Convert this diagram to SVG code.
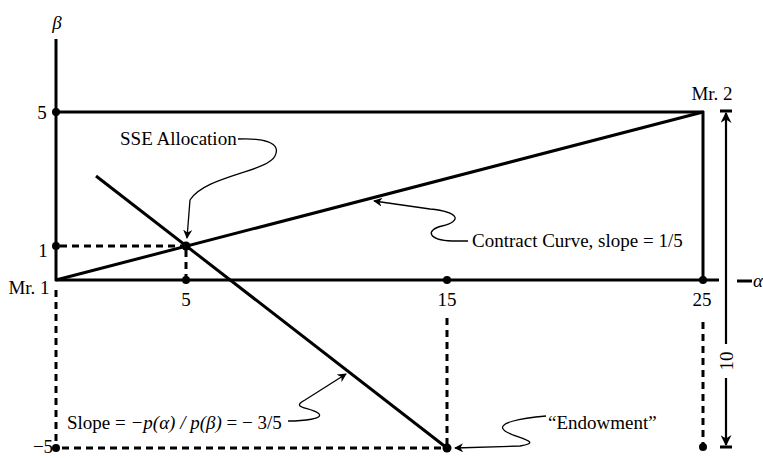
<svg xmlns="http://www.w3.org/2000/svg" width="763" height="458" viewBox="0 0 763 458">
<style>
.t{font-family:"Liberation Serif","Times New Roman",serif;font-size:19px;fill:#000}
.i{font-style:italic}
.thick{stroke:#000;stroke-width:3;fill:none}
.dash{stroke:#000;stroke-width:3;fill:none;stroke-dasharray:7 5}
.thin{stroke:#000;stroke-width:1.3;fill:none}
.dot{fill:#000}
</style>
<defs>
<marker id="ah" viewBox="0 0 10 10" refX="9" refY="5" markerWidth="9" markerHeight="9" markerUnits="userSpaceOnUse" orient="auto">
<path d="M0,0 L10,5 L0,10 L3,5 Z" fill="#000"/>
</marker>
<marker id="ah2" viewBox="0 0 10 10" refX="9" refY="5" markerWidth="11" markerHeight="11" markerUnits="userSpaceOnUse" orient="auto">
<path d="M0,0 L10,5 L0,10 L3,5 Z" fill="#000"/>
</marker>
</defs>
<g id="axes">
<line class="thick" x1="56" y1="39" x2="56" y2="281"/>
<line class="thick" x1="55" y1="280" x2="719" y2="280"/>
<line class="thick" x1="737" y1="281" x2="752" y2="281"/>
<line class="thick" x1="56" y1="112" x2="704" y2="112"/>
<line class="thick" x1="703" y1="111" x2="703" y2="280"/>
<text class="t i" x="57" y="29" text-anchor="middle">β</text>
<text class="t i" x="758" y="287" text-anchor="middle">α</text>
<text class="t" x="42" y="119" text-anchor="middle">5</text>
<text class="t" x="43" y="257" text-anchor="middle">1</text>
<text class="t" x="43" y="453" text-anchor="middle">−5</text>
<text class="t" x="186" y="306" text-anchor="middle">5</text>
<text class="t" x="447" y="306" text-anchor="middle">15</text>
<text class="t" x="702" y="306" text-anchor="middle">25</text>
</g>
<g id="mr1"><text class="t" x="29" y="294" text-anchor="middle">Mr. 1</text></g>
<g id="mr2"><text class="t" x="712" y="100" text-anchor="middle">Mr. 2</text></g>
<g id="connectors">
<line class="thick" x1="56" y1="280" x2="703" y2="112"/>
<line class="thick" x1="96" y1="176" x2="447" y2="448"/>
<line class="dash" x1="60" y1="246" x2="186" y2="246"/>
<line class="dash" x1="186" y1="250" x2="186" y2="280"/>
<line class="dash" x1="56" y1="290" x2="56" y2="446"/>
<line class="dash" x1="62" y1="448" x2="447" y2="448"/>
<line class="dash" x1="447" y1="318" x2="447" y2="446"/>
<line class="dash" x1="703" y1="322" x2="703" y2="444"/>
<line class="thin" x1="720" y1="111" x2="732" y2="111" style="stroke-width:3"/>
<line class="thin" x1="720" y1="447" x2="732" y2="447" style="stroke-width:3"/>
<line class="thin" x1="726" y1="344" x2="726" y2="113" style="stroke-width:2.2" marker-end="url(#ah2)"/>
<line class="thin" x1="726" y1="378" x2="726" y2="445" style="stroke-width:2.2" marker-end="url(#ah2)"/>
<path class="thin" d="M238,139 C262,138 282,142 275,156 C267,172 205,176 190,200 L187,238" marker-end="url(#ah)"/>
<path class="thin" d="M468,241 L452,241 C428,240 425,230 442,226 C462,221 460,212 430,209 L374,201" marker-end="url(#ah)"/>
<path class="thin" d="M288,421 C302,421 326,419 318,413 C309,407 290,408 305,400 L346,374" marker-end="url(#ah)"/>
<path class="thin" d="M546,416 C522,418 494,423 505,431 C515,438 545,442 520,446 L455,448" marker-end="url(#ah)"/>
<circle class="dot" cx="56" cy="112" r="4"/>
<circle class="dot" cx="56" cy="246" r="4"/>
<circle class="dot" cx="186" cy="246" r="4.5"/>
<circle class="dot" cx="186" cy="280" r="4"/>
<circle class="dot" cx="447" cy="280" r="4"/>
<circle class="dot" cx="703" cy="280" r="4"/>
<circle class="dot" cx="56" cy="448" r="4"/>
<circle class="dot" cx="447" cy="448" r="4.5"/>
<circle class="dot" cx="703" cy="447" r="4"/>
</g>
<g id="label10"><text class="t" transform="translate(733,361) rotate(-90)" text-anchor="middle">10</text></g>
<g id="sse"><text class="t" x="120" y="145">SSE Allocation</text></g>
<g id="contract"><text class="t" x="472" y="247">Contract Curve, slope = 1/5</text></g>
<g id="slope"><text class="t" x="67" y="429">Slope = <tspan class="i">−p(α) / p(β)</tspan> = − 3/5</text></g>
<g id="endow"><text class="t" x="548" y="429">“Endowment”</text></g>
</svg>
